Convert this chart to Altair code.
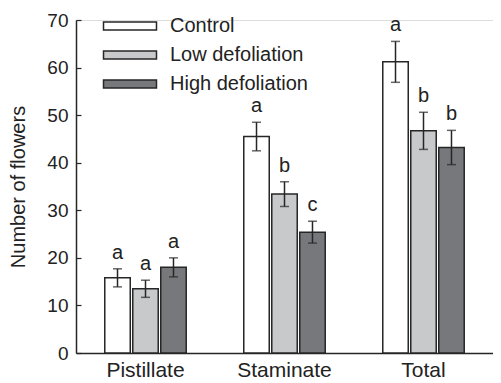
import altair as alt
import pandas as pd

groups = ["Pistillate", "Staminate", "Total"]
treatments = ["Control", "Low defoliation", "High defoliation"]
colors = ["#ffffff", "#c8c9cb", "#77787c"]

control_mean = [15.8, 45.5, 61.2]
low_mean = [13.5, 33.4, 46.7]
high_mean = [18.0, 25.4, 43.2]

control_se = [1.9, 3.0, 4.3]
low_se = [1.8, 2.6, 3.9]
high_se = [2.0, 2.3, 3.6]

control_letter = ["a", "a", "a"]
low_letter = ["a", "b", "b"]
high_letter = ["a", "c", "b"]

y_ticks = [0, 10, 20, 30, 40, 50, 60, 70]

rows = []
for t, means, ses, lets in [
    ("Control", control_mean, control_se, control_letter),
    ("Low defoliation", low_mean, low_se, low_letter),
    ("High defoliation", high_mean, high_se, high_letter),
]:
    for g, m, s, l in zip(groups, means, ses, lets):
        rows.append({"group": g, "treatment": t, "mean": m,
                     "lo": m - s, "hi": m + s, "letter": l})
df = pd.DataFrame(rows)

FONT = "Liberation Sans"
DARK = "#262626"

x = alt.X("group:N", sort=groups, title=None,
          scale=alt.Scale(paddingInner=0.414, paddingOuter=0.207),
          axis=alt.Axis(labelAngle=0, ticks=False, labelPadding=6,
                        labelFontSize=21, domainColor=DARK, domainWidth=1.5))
xo = alt.XOffset("treatment:N", sort=treatments,
                 scale=alt.Scale(paddingInner=0.09, paddingOuter=0))
yscale = alt.Scale(domain=[0, 70], nice=False)

base = alt.Chart(df)

bars = base.mark_bar(stroke=DARK, strokeWidth=1.5).encode(
    x=x, xOffset=xo,
    y=alt.Y("mean:Q", scale=yscale, title="Number of flowers",
            axis=alt.Axis(values=y_ticks, tickSize={"expr": "-5"}, tickWidth=1.2,
                          tickColor=DARK, domainColor=DARK, domainWidth=1.5,
                          labelFontSize=19, labelPadding=13, grid=False,
                          titleFontSize=20, titleFontWeight="normal",
                          titlePadding=18)),
    color=alt.Color("treatment:N", sort=treatments,
                    scale=alt.Scale(domain=treatments, range=colors),
                    legend=alt.Legend(title=None, orient="none",
                                      legendX=44, legendY=-4,
                                      symbolType="M-3,-0.45L3,-0.45L3,0.45L-3,0.45Z",
                                      symbolSize=312, symbolStrokeColor=DARK,
                                      symbolStrokeWidth=1.5, symbolOpacity=1,
                                      labelFontSize=20, labelOffset=30,
                                      rowPadding=9, labelColor="#222")),
)

rules = base.mark_rule(color=DARK, strokeWidth=1.5).encode(
    x=x, xOffset=xo, y=alt.Y("lo:Q", scale=yscale), y2="hi:Q")

caps_hi = base.mark_tick(color=DARK, thickness=1.5, size=9).encode(
    x=x, xOffset=xo, y=alt.Y("hi:Q", scale=yscale))
caps_lo = base.mark_tick(color=DARK, thickness=1.5, size=9).encode(
    x=x, xOffset=xo, y=alt.Y("lo:Q", scale=yscale))

letters = base.mark_text(fontSize=20, dy=-10, baseline="alphabetic",
                         color="#222", font=FONT).encode(
    x=x, xOffset=xo, y=alt.Y("hi:Q", scale=yscale), text="letter:N")

chart = alt.layer(bars, rules, caps_hi, caps_lo, letters).properties(
    width=417, height=333,
    padding={"left": 0, "top": 3, "right": 0, "bottom": 2}
).configure_view(stroke=None).configure(font=FONT).configure_axis(
    labelColor="#222", titleColor="#222", labelFont=FONT, titleFont=FONT
)

chart.save("out.html", embed_options={"renderer": "svg", "actions": False})
